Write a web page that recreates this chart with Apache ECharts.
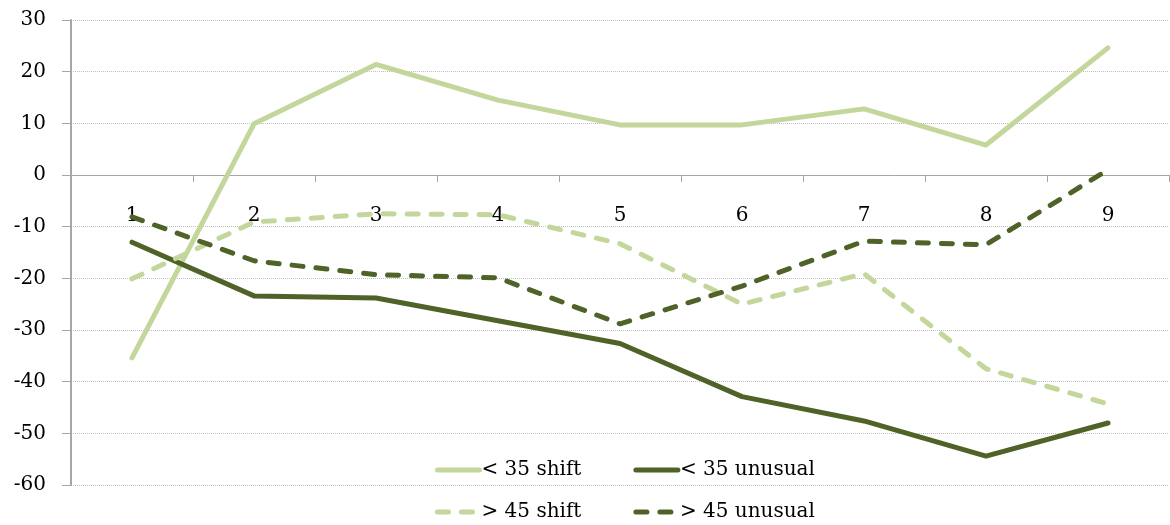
<!DOCTYPE html>
<html><head><meta charset="utf-8">
<script src="https://cdn.jsdelivr.net/npm/echarts@6/dist/echarts.min.js"></script>
<style>html,body{margin:0;padding:0;background:#fff}#c{width:1170px;height:525px}</style>
</head><body><div id="c"></div>
<script>
const categories = ['1','2','3','4','5','6','7','8','9'];
const under35Shift = [-35.4, 9.9, 21.4, 14.5, 9.7, 9.7, 12.8, 5.8, 24.6];
const under35Unusual = [-13.0, -23.4, -23.8, -28.2, -32.6, -42.9, -47.6, -54.4, -48.0];
const over45Shift = [-20.1, -9.1, -7.5, -7.7, -13.3, -25.0, -19.1, -37.5, -44.3];
const over45Unusual = [-8.1, -16.6, -19.3, -19.9, -28.8, -21.5, -12.8, -13.5, 1.0];
const seriesNames = ['< 35 shift', '< 35 unusual', '> 45 shift', '> 45 unusual'];
const lightGreen = '#C3D69B', darkGreen = '#4F6228';
const font = '"DejaVu Serif", "Liberation Serif", serif';

const chart = echarts.init(document.getElementById('c'), null, {renderer: 'canvas'});
function mk(name, data, color, dashed) {
  return {
    name, type: 'line', data, symbol: 'none', showSymbol: false,
    lineStyle: {color, width: 5, type: dashed ? [11, 13] : 'solid', cap: 'round', join: 'round'},
    itemStyle: {color}
  };
}
const legendCommon = {
  left: 430, itemWidth: 42, itemHeight: 14, itemGap: 52,
  textStyle: {fontFamily: font, fontSize: 20, color: '#000', padding: [0, 0, 0, -3]},
  lineStyle: {width: 5, cap: 'round'},
  itemStyle: {opacity: 0}
};
chart.setOption({
  animation: false,
  grid: {left: 71, right: 1, top: 20, bottom: 40, containLabel: false, outerBoundsMode: 'none'},
  legend: [
    Object.assign({}, legendCommon, {top: 455, data: [seriesNames[0], seriesNames[1]]}),
    Object.assign({}, legendCommon, {top: 497, data: [seriesNames[2], seriesNames[3]]})
  ],
  xAxis: {
    type: 'category', data: categories, boundaryGap: true,
    position: 'bottom', offset: -310,
    axisLine: {onZero: false, lineStyle: {color: '#A6A6A6', width: 1}},
    axisTick: {show: true, alignWithLabel: false, length: 7, lineStyle: {color: '#A6A6A6'}},
    axisLabel: {margin: 31, fontFamily: font, fontSize: 20, color: '#000'},
    splitLine: {show: false}
  },
  yAxis: {
    type: 'value', min: -60, max: 30, interval: 10,
    axisLine: {show: true, lineStyle: {color: '#A6A6A6', width: 2}},
    axisTick: {show: true, length: 9, lineStyle: {color: '#A6A6A6'}},
    axisLabel: {margin: 25, fontFamily: font, fontSize: 20, color: '#000'},
    splitLine: {show: true, lineStyle: {color: '#BFBFBF', type: 'dotted', width: 1}}
  },
  series: [
    mk(seriesNames[0], under35Shift, lightGreen, false),
    mk(seriesNames[1], under35Unusual, darkGreen, false),
    mk(seriesNames[2], over45Shift, lightGreen, true),
    mk(seriesNames[3], over45Unusual, darkGreen, true)
  ]
});
</script></body></html>
